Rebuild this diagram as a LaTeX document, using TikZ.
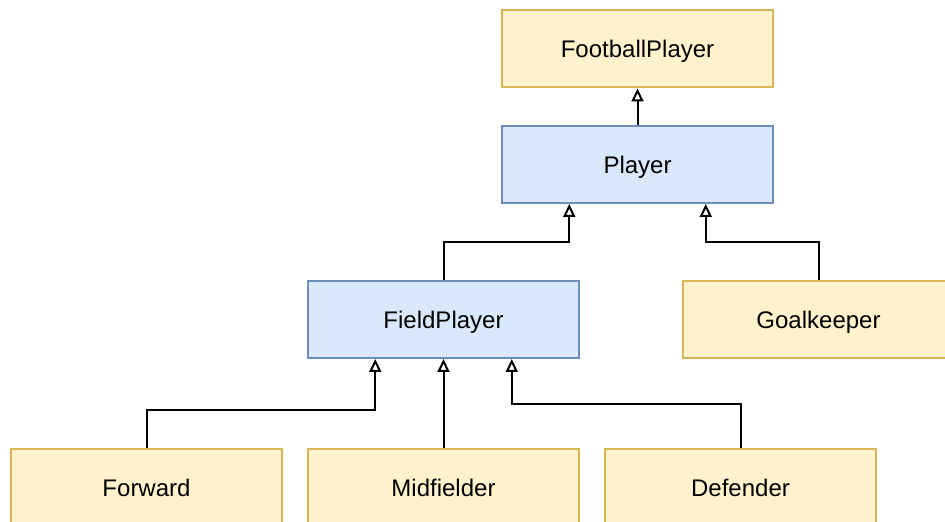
\documentclass[tikz,border=0pt]{standalone}
\usepackage{fontspec}
\setmainfont{Liberation Sans}
\usepackage{tikz}
\usetikzlibrary{arrows.meta, positioning, calc}

\definecolor{ylwfill}{HTML}{FFF2CC}
\definecolor{ylwline}{HTML}{D6B656}
\definecolor{bluefill}{HTML}{DAE8FC}
\definecolor{blueline}{HTML}{6C8EBF}

\begin{document}
\begin{tikzpicture}[
  x=0.5pt, y=-0.5pt,
  cls/.style={draw, line width=1pt, minimum width=135.5pt, minimum height=38.5pt,
              inner sep=0pt, text height=8.6pt, text depth=0pt,
              font=\fontsize{12}{14}\selectfont},
  leaf/.style={cls, fill=ylwfill, draw=ylwline},
  base/.style={cls, fill=bluefill, draw=blueline},
  inh/.style={-{Triangle[open, length=6.5pt, width=6pt, line width=1pt]}, line width=1pt}
]
  \clip (0,0) rectangle (945,522);

  % top of the hierarchy
  \node[leaf] (football) at (637.5,49) {FootballPlayer};
  \node[base] (player) at (637.5,164.5) {Player};

  % second level
  \node[base] (field) at (443.5,319.5) {FieldPlayer};
  \node[leaf] (keeper) at (818.5,319.5) {Goalkeeper};

  % field positions
  \node[leaf] (forward) at (146.5,487.5) {Forward};
  \node[leaf] (mid) at (443.5,487.5) {Midfielder};
  \node[leaf] (defender) at (740.5,487.5) {Defender};

  % docking points on the parents
  \coordinate (playerL) at ($(player.south west)!0.25!(player.south east)$);
  \coordinate (playerR) at ($(player.south west)!0.75!(player.south east)$);
  \coordinate (fieldL) at ($(field.south west)!0.25!(field.south east)$);
  \coordinate (fieldR) at ($(field.south west)!0.75!(field.south east)$);

  % inheritance arrows
  \draw[inh] (player) -- (football);
  \draw[inh] (field.north) -- (field.north |- 0,242) -- (playerL |- 0,242) -- (playerL);
  \draw[inh] (keeper.north) -- (keeper.north |- 0,242) -- (playerR |- 0,242) -- (playerR);
  \draw[inh] (forward.north) -- (forward.north |- 0,410) -- (fieldL |- 0,410) -- (fieldL);
  \draw[inh] (mid) -- (field);
  \draw[inh] (defender.north) -- (defender.north |- 0,404) -- (fieldR |- 0,404) -- (fieldR);
\end{tikzpicture}
\end{document}
